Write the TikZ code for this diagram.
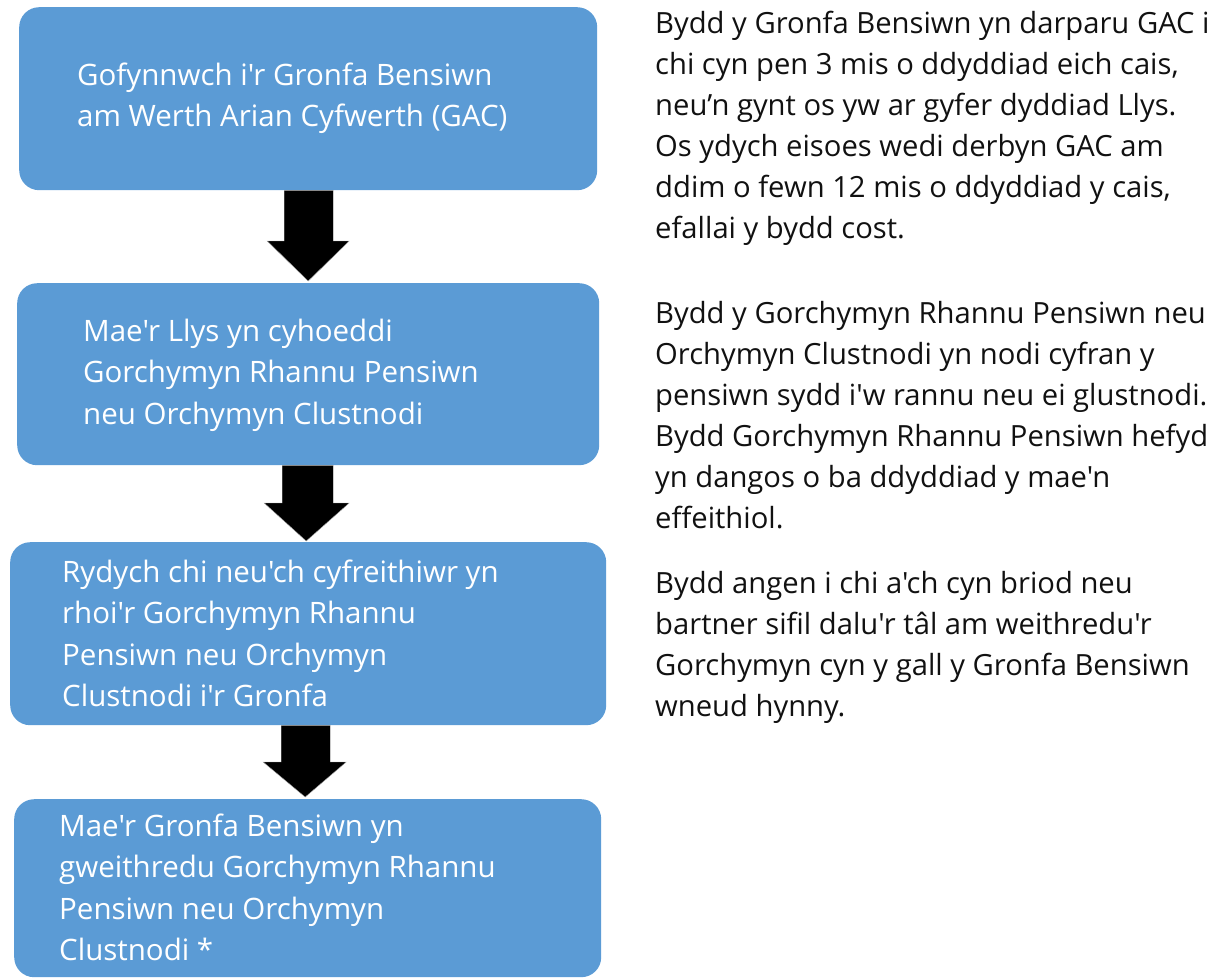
\documentclass[tikz,border=0pt]{standalone}
\usepackage{fontspec}
\setmainfont{Open Sans}[Ligatures=TeXOff]
\usetikzlibrary{calc}
\definecolor{boxblue}{HTML}{5B9BD5}
\definecolor{inkblack}{HTML}{111111}
\begin{document}
\begin{tikzpicture}[x=1pt,y=-1pt,
  stepbox/.style={fill=boxblue, rounded corners=20pt, inner sep=0pt, anchor=north west},
  boxtext/.style={text=white, align=left, anchor=north west, inner sep=0pt, font=\fontsize{29.5}{41.5}\selectfont},
  sidetext/.style={text=inkblack, align=left, anchor=north west, inner sep=0pt, font=\fontsize{29.2}{41}\selectfont},
  bigarrow/.style={fill=black, draw=gray!70, line width=0.4pt}]
\useasboundingbox (0,0) rectangle (1220,978);
% boxes
\node[stepbox, minimum width=578pt, minimum height=183pt] (b1) at (19,7) {};
\node[stepbox, minimum width=582pt, minimum height=182pt] (b2) at (17,283) {};
\node[stepbox, minimum width=596pt, minimum height=183pt] (b3) at (10,542) {};
\node[stepbox, minimum width=587pt, minimum height=178pt] (b4) at (14,799) {};
% box texts
\node[boxtext] (t1) at (77,56) {\strut Gofynnwch i'r Gronfa Bensiwn\\am Werth Arian Cyfwerth (GAC)};
\node[boxtext] (t2) at (83,312) {\strut Mae'r Llys yn cyhoeddi\\Gorchymyn Rhannu Pensiwn\\neu Orchymyn Clustnodi};
\node[boxtext] (t3) at (62,553) {\strut Rydych chi neu'ch cyfreithiwr yn\\rhoi'r Gorchymyn Rhannu\\Pensiwn neu Orchymyn\\Clustnodi i'r Gronfa};
\node[boxtext] (t4) at (59,807) {\strut Mae'r Gronfa Bensiwn yn\\gweithredu Gorchymyn Rhannu\\Pensiwn neu Orchymyn\\Clustnodi *};
% arrows
\path let \p1=(b1.south), \p2=(b2.north) in
  [bigarrow] (\x1-24pt,\y1) -- (\x1+25pt,\y1) -- (\x1+25pt,\y2+42pt) -- (\x1+41pt,\y2+42pt)
  -- (\x1,\y2+2pt) -- (\x1-41pt,\y2+42pt) -- (\x1-24pt,\y2+42pt) -- cycle;
\path let \p1=(b2.south), \p2=(b3.north) in
  [bigarrow] (\x1-26pt,\y1) -- (\x1+25pt,\y1) -- (\x1+25pt,\y2+39pt) -- (\x1+41pt,\y2+39pt)
  -- (\x1-2pt,\y2+1pt) -- (\x1-44pt,\y2+39pt) -- (\x1-26pt,\y2+39pt) -- cycle;
\path let \p1=(b3.south), \p2=(b4.north) in
  [bigarrow] (\x1-27pt,\y1) -- (\x1+22pt,\y1) -- (\x1+22pt,\y2+37pt) -- (\x1+38pt,\y2+37pt)
  -- (\x1-3pt,\y2+2pt) -- (\x1-45pt,\y2+37pt) -- (\x1-27pt,\y2+37pt) -- cycle;
% side texts
\node[sidetext] (s1) at (655,5) {\strut Bydd y Gronfa Bensiwn yn darparu GAC i\\chi cyn pen 3 mis o ddyddiad eich cais,\\neu’n gynt os yw ar gyfer dyddiad Llys.\\Os ydych eisoes wedi derbyn GAC am\\ddim o fewn 12 mis o ddyddiad y cais,\\efallai y bydd cost.};
\node[sidetext] (s2) at (655,295) {\strut Bydd y Gorchymyn Rhannu Pensiwn neu\\Orchymyn Clustnodi yn nodi cyfran y\\pensiwn sydd i'w rannu neu ei glustnodi.\\Bydd Gorchymyn Rhannu Pensiwn hefyd\\yn dangos o ba ddyddiad y mae'n\\effeithiol.};
\node[sidetext] (s3) at (655,565) {\strut Bydd angen i chi a'ch cyn briod neu\\bartner sifil dalu'r tâl am weithredu'r\\Gorchymyn cyn y gall y Gronfa Bensiwn\\wneud hynny.};
\end{tikzpicture}
\end{document}
